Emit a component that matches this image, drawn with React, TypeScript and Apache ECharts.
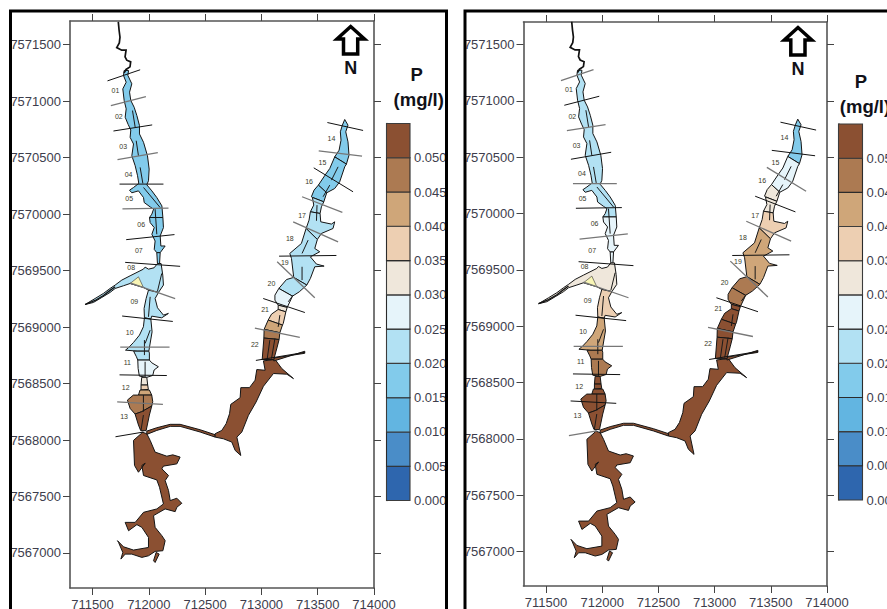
import React, { useEffect, useRef } from "react";
import * as echarts from "echarts";

type Pt = number[];
const BASE_E = 711000;
const BASE_N = 7566000;

const xTicks = [711500, 712000, 712500, 713000, 713500, 714000];
const yTicks = [7567000, 7567500, 7568000, 7568500, 7569000, 7569500, 7570000, 7570500, 7571000, 7571500];
const legendTicks = [0, 0.005, 0.01, 0.015, 0.02, 0.025, 0.03, 0.035, 0.04, 0.045, 0.05];
const bandColors = ["#2E66AE", "#4A8DC8", "#62B5E1", "#82CBEB", "#B2E1F3", "#E6F4FA", "#EFE7DB", "#EDCFB2", "#CFA679", "#AC7A52", "#8B5032"];

// Left arm (easting - 711000, northing - 7566000)
const zoneA: Pt[] = [[781,5272],[775,5228],[799,5168],[769,5109],[781,5006],[799,4932],[790,4858],[817,4793],[840,4745],[834,4680],[864,4621],[849,4517],[879,4428],[900,4340],[911,4272],[864,4236],[829,4212],[849,4189],[908,4206],[953,4147],[959,4103],[1012,4064],[1042,4044],[1027,4000],[1006,3970],[1125,3970],[1116,4073],[1071,4147],[1027,4206],[982,4260],[997,4295],[1003,4399],[988,4517],[953,4636],[917,4710],[917,4784],[894,4872],[870,4946],[840,5006],[829,5080],[849,5154],[814,5228],[820,5272]];
const zoneB: Pt[] = [[1006,3970],[1012,3925],[1048,3881],[1027,3822],[1056,3762],[1048,3688],[1071,3659],[1101,3659],[1145,3718],[1107,3718],[1101,3807],[1130,3881],[1125,3970]];
const zoneC: Pt[] = [[1071,3659],[1077,3555],[1095,3555],[1101,3659]];
const zoneD: Pt[] = [[1077,3563],[1047,3525],[997,3513],[967,3531],[952,3513],[834,3454],[760,3416],[701,3372],[656,3342],[597,3298],[523,3253],[434,3200],[508,3218],[582,3262],[656,3307],[701,3342],[775,3366],[834,3386],[952,3351],[997,3327],[1086,3307],[1130,3372],[1124,3460],[1109,3563]];
const zoneE: Pt[] = [[997,3327],[976,3253],[958,3165],[961,3082],[1018,3071],[1026,3097],[1115,3082],[1174,3121],[1130,3106],[1077,3171],[1056,3253],[1086,3307]];
const zoneF: Pt[] = [[961,3082],[952,3003],[917,2929],[864,2864],[819,2817],[793,2796],[899,2787],[1000,2787],[1029,2958],[1018,3071]];
const zoneF2: Pt[] = [[865,2787],[890,2737],[902,2708],[1005,2708],[1005,2770],[1000,2787]];
const zoneG: Pt[] = [[902,2708],[905,2634],[916,2566],[982,2555],[1035,2572],[1047,2620],[1085,2649],[1026,2684],[1005,2708]];
const zoneH: Pt[] = [[937,2555],[982,2555],[990,2487],[931,2487]];
const zoneI: Pt[] = [[931,2487],[990,2487],[996,2448],[931,2443]];
const zoneJ: Pt[] = [[922,2443],[1005,2443],[1026,2398],[908,2398]];
const zoneK: Pt[] = [[908,2398],[863,2398],[810,2354],[834,2280],[878,2230],[937,2251],[1026,2301],[1035,2339],[1026,2398]];
const zoneL: Pt[] = [[878,2230],[908,2133],[928,2083],[976,2083],[1005,2221],[1026,2301],[937,2251]];
const yellowCove: Pt[] = [[834,3386],[908,3445],[952,3351]];

// Main body of the reservoir
const bodySouth: Pt[] = [[938,2071],[982,2056],[1012,1997],[1056,1893],[1160,1857],[1213,1869],[1278,1849],[1249,1789],[1130,1769],[1116,1745],[1175,1686],[1145,1641],[1175,1553],[1190,1464],[1249,1485],[1293,1440],[1249,1405],[1234,1366],[1145,1390],[1042,1331],[1056,1227],[1116,1153],[1145,1109],[1125,1020],[1056,1014],[997,975],[938,961],[849,990],[790,990],[752,946],[769,1005],[731,1094],[722,1109],[775,1055],[864,1026],[997,1049],[997,1138],[938,1227],[894,1251],[820,1197],[790,1271],[879,1271],[953,1360],[1071,1390],[1130,1434],[1095,1582],[1071,1647],[953,1686],[938,1775],[968,1795],[908,1715],[873,1775],[864,1997],[938,2062]];
const islet: Pt[] = [[1042,931],[1065,1005],[1092,990],[1056,916]];
const channel: Pt[] = [[982,2079],[1071,2109],[1190,2139],[1278,2139],[1456,2091],[1589,2047],[1589,2026],[1456,2071],[1278,2121],[1190,2121],[1071,2085],[982,2050]];
const eastLobe: Pt[] = [[1589,2056],[1648,2085],[1687,2145],[1717,2233],[1728,2316],[1811,2375],[1817,2464],[1894,2464],[1944,2530],[1959,2624],[2033,2618],[2018,2701],[2122,2713],[2181,2633],[2285,2544],[2226,2583],[2107,2589],[2018,2476],[1953,2337],[1885,2219],[1826,2071],[1782,2026],[1817,1863],[1767,1908],[1737,1982],[1663,2011],[1589,2026]];
const eastSpur: Pt[] = [[2110,2700],[2385,2786],[2385,2768],[2110,2726]];

// Right arm
const armR1: Pt[] = [[2740,4838],[2719,4788],[2701,4729],[2707,4655],[2690,4566],[2651,4507],[2755,4443],[2778,4522],[2769,4640],[2749,4729],[2769,4788]];
const armR2: Pt[] = [[2651,4507],[2607,4404],[2565,4345],[2506,4257],[2580,4189],[2651,4227],[2695,4286],[2740,4419],[2755,4443]];
const armR3: Pt[] = [[2506,4257],[2468,4213],[2444,4154],[2453,4148],[2554,4109],[2580,4189]];
const armR4: Pt[] = [[2453,4148],[2465,4080],[2435,4021],[2521,4006],[2533,4065],[2554,4109]];
const armR5: Pt[] = [[2435,4021],[2423,3947],[2397,3873],[2497,3776],[2533,3829],[2636,3873],[2651,3932],[2622,3912],[2527,3932],[2521,4006]];
const armR6: Pt[] = [[2397,3873],[2355,3740],[2252,3652],[2267,3608],[2287,3440],[2403,3372],[2435,3431],[2474,3534],[2557,3540],[2489,3558],[2435,3622],[2518,3667],[2474,3696],[2497,3776]];
const armR7: Pt[] = [[2287,3440],[2223,3421],[2155,3342],[2276,3274],[2336,3312],[2403,3372]];
const armR8: Pt[] = [[2155,3342],[2120,3283],[2120,3239],[2149,3194],[2229,3174],[2276,3274]];
const armR9: Pt[] = [[2149,3156],[2149,3194],[2229,3174],[2217,3135]];
const armR10: Pt[] = [[2060,3062],[2090,3115],[2149,3156],[2217,3135],[2194,3032],[2187,3018]];
const armR11: Pt[] = [[2060,3062],[2187,3018],[2164,2950],[2024,2980]];
const armR12: Pt[] = [[2024,2980],[2164,2950],[2157,2890],[2022,2903]];
const armR13: Pt[] = [[2022,2903],[2157,2890],[2140,2823],[2110,2713],[2007,2713]];

const zones: Pt[][] = [zoneA, zoneB, zoneC, zoneD, zoneE, zoneF, zoneF2, zoneG, zoneH, zoneI, zoneJ, zoneK, zoneL, bodySouth, islet, channel, eastLobe, eastSpur, armR1, armR2, armR3, armR4, armR5, armR6, armR7, armR8, armR9, armR10, armR11, armR12, armR13];
// Phosphorus (mg/l) of each zone in the two maps
const phosphorusLeft = [0.0175, 0.0175, 0.0175, 0.0225, 0.0225, 0.0225, 0.0225, 0.0275, 0.0325, 0.0375, 0.0425, 0.0475, 0.052, 0.052, 0.052, 0.052, 0.052, 0.052, 0.0175, 0.0175, 0.0175, 0.0225, 0.0225, 0.0225, 0.0225, 0.0275, 0.0325, 0.0375, 0.0425, 0.0475, 0.052];
const phosphorusRight = [0.0225, 0.0275, 0.0275, 0.0325, 0.0375, 0.0425, 0.0475, 0.0475, 0.052, 0.052, 0.052, 0.052, 0.052, 0.052, 0.052, 0.052, 0.052, 0.052, 0.0175, 0.0275, 0.0325, 0.0325, 0.0375, 0.0425, 0.0475, 0.0475, 0.052, 0.052, 0.052, 0.052, 0.052];

const stream: Pt[] = [[729,5702],[736,5628],[744,5567],[738,5516],[715,5475],[759,5452],[798,5452],[789,5392],[804,5363],[839,5348],[833,5304],[798,5281],[780,5251]];
const westTail: Pt[] = [[701,3357],[656,3325],[597,3280],[523,3236],[434,3200]];

const centerLines: Pt[][] = [
  [[855,4917],[879,4769]], [[888,4650],[908,4517]], [[923,4414],[947,4272]], [[953,4236],[1101,4058]], [[1056,4044],[1071,3822]],
  [[1115,3475],[1077,3318]], [[1012,3268],[997,3091]], [[1012,2973],[967,2855]], [[961,2885],[961,2752]], [[967,2693],[967,2560]],
  [[952,2398],[952,2251]], [[952,2221],[931,2088]], [[2681,4419],[2622,4301]], [[2607,4257],[2548,4154]], [[2494,4080],[2489,3941]],
  [[2415,3770],[2361,3652]], [[2361,3534],[2361,3416]], [[2238,3224],[2282,3283]], [[2164,3106],[2149,3002]], [[2075,2885],[2052,2722]], [[2120,2899],[2090,2722]],
];
const stationLines: Pt[][] = [
  [[633,5180],[923,5278]], [[663,4961],[974,5041]], [[686,4736],[1030,4790]], [[722,4482],[1080,4544]], [[740,4266],[1130,4266]], [[766,4047],[1175,4053]], [[799,3774],[1228,3819]],
  [[790,3573],[1278,3538]], [[834,3392],[1234,3253]], [[763,3098],[1213,3050]], [[746,2822],[1184,2822]], [[740,2577],[1160,2571]], [[719,2337],[1125,2316]], [[704,2029],[953,2071]],
  [[2586,4811],[2903,4741]], [[2509,4561],[2894,4513]], [[2465,4410],[2814,4198]], [[2361,4154],[2719,4015]], [[2282,3932],[2681,3755]], [[2157,3628],[2666,3634]], [[2140,3578],[2474,3260]],
  [[2016,3253],[2386,3129]], [[1942,2991],[2341,2909]], [[1951,2705],[2385,2776]],
];
const stationGreyLeft = [0, 1, 0, 1, 0, 1, 0, 0, 1, 0, 1, 0, 1, 0, 0, 1, 0, 1, 1, 0, 1, 0, 1, 0];
const stationGreyRight = [1, 0, 1, 0, 1, 0, 1, 0, 1, 0, 1, 0, 0, 1, 0, 0, 1, 0, 1, 0, 1, 0, 1, 0];

const sectionNames = ["01","02","03","04","05","06","07","08","09","10","11","12","13","14","15","16","17","18","19","20","21","22"];
const sectionSpots: Pt[] = [[704,5097],[734,4861],[772,4600],[820,4354],[826,4138],[932,3910],[911,3674],[843,3526],[871,3230],[830,2950],[809,2688],[795,2463],[780,2212],[2622,4673],[2542,4457],[2423,4292],[2361,3985],[2252,3788],[2208,3575],[2089,3384],[2033,3159],[1942,2847]];

const FONT = '"Liberation Sans", Arial, sans-serif';
const LABEL = "#3d3d4c";
const bandOf = (v: number) => bandColors[Math.min(bandColors.length - 1, Math.floor(v / 0.005))];
const toData = (p: Pt) => [BASE_E + p[0], BASE_N + p[1]];

function mapSeries(axis: number, pValues: number[], grey: number[]) {
  const base = { type: "custom", coordinateSystem: "cartesian2d", xAxisIndex: axis, yAxisIndex: axis, clip: false, silent: true, encode: { x: 0, y: 1 } };
  const line = (lines: Pt[][], widthOf: (i: number) => number, colorOf: (i: number) => string, z: number) => ({
    ...base, z,
    data: lines.map((l) => toData(l[0])),
    renderItem: (params: any, api: any) => ({
      type: "polyline",
      shape: { points: lines[params.dataIndex].map((p) => api.coord(toData(p))) },
      style: { fill: "none", stroke: colorOf(params.dataIndex), lineWidth: widthOf(params.dataIndex) },
    }),
  });
  return [
    {
      ...base, z: 2,
      data: zones.map((z) => toData(z[0])),
      renderItem: (params: any, api: any) => ({
        type: "polygon",
        shape: { points: zones[params.dataIndex].map((p) => api.coord(toData(p))) },
        style: { fill: bandOf(pValues[params.dataIndex]), stroke: "#151515", lineWidth: 1 },
      }),
    },
    {
      ...base, z: 3,
      data: [toData(yellowCove[0])],
      renderItem: (_p: any, api: any) => ({
        type: "polygon",
        shape: { points: yellowCove.map((p) => api.coord(toData(p))) },
        style: { fill: "#F8F5B5", stroke: "#333", lineWidth: 0.6 },
      }),
    },
    line(centerLines, () => 1, () => "#1a1a1a", 4),
    line(stationLines, (i) => (grey[i] ? 1.3 : 1), (i) => (grey[i] ? "#777" : "#111"), 5),
    line([stream, westTail], (i) => (i === 0 ? 1.7 : 1.3), () => "#111", 6),
    {
      ...base, z: 7,
      data: sectionSpots.map(toData),
      renderItem: (params: any, api: any) => {
        const c = api.coord(toData(sectionSpots[params.dataIndex]));
        return {
          type: "text",
          style: { x: c[0], y: c[1], text: sectionNames[params.dataIndex], fill: "#3a3a28", font: `7px ${FONT}`, align: "center", verticalAlign: "middle" },
        };
      },
    },
  ];
}

function legendSeries(axis: number) {
  return {
    type: "custom", coordinateSystem: "cartesian2d", xAxisIndex: axis, yAxisIndex: axis, clip: false, silent: true, encode: { x: 0, y: 1 }, z: 2,
    data: bandColors.map((_, i) => [0, i * 0.005]),
    renderItem: (params: any, api: any) => {
      const i = params.dataIndex;
      const a = api.coord([0, i * 0.005]);
      const b = api.coord([1, (i + 1) * 0.005]);
      return {
        type: "rect",
        shape: { x: a[0], y: b[1], width: b[0] - a[0], height: a[1] - b[1] },
        style: { fill: bandColors[i], stroke: i % 2 ? "#2b2b2b" : "#3c3c3c", lineWidth: 1.1 },
      };
    },
  };
}

const axisLine = { show: true, onZero: false, lineStyle: { color: "#555", width: 1.6 } };
const tickStyle = { show: true, length: 7, inside: false, lineStyle: { color: "#444", width: 1 } };
const labelStyle = { color: LABEL, fontFamily: FONT, fontSize: 13 };

function mapAxes(yMin: number, yMax: number) {
  const x = (position: string, labelled: boolean) => ({
    type: "value", position, min: 711300, max: 714000, splitLine: { show: false }, axisLine,
    axisTick: { ...tickStyle, customValues: xTicks },
    axisLabel: labelled ? { ...labelStyle, margin: 10, customValues: xTicks, formatter: (v: number) => String(v) } : { show: false },
  });
  const y = (position: string, labelled: boolean) => ({
    type: "value", position, min: yMin, max: yMax, splitLine: { show: false }, axisLine,
    axisTick: { ...tickStyle, customValues: yTicks },
    axisLabel: labelled ? { ...labelStyle, margin: 9, customValues: yTicks, formatter: (v: number) => String(v) } : { show: false },
  });
  return { x: [x("bottom", true), x("top", false)], y: [y("left", true), y("right", false)] };
}

function legendAxes() {
  return {
    x: { type: "value", min: 0, max: 1, show: false, splitLine: { show: false } },
    y: {
      type: "value", position: "right", min: 0, max: 0.055, splitLine: { show: false },
      axisLine: { show: true, lineStyle: { color: "#666", width: 1.6 } }, axisTick: { show: false },
      axisLabel: { ...labelStyle, margin: 4, customValues: legendTicks, formatter: (v: number) => v.toFixed(3), hideOverlap: false },
    },
  };
}

function arrow(dx: number, dy: number) {
  const pts = [[350.7, 26.5], [337, 39], [343.5, 39], [343.5, 54], [357.7, 54], [357.7, 39], [364.5, 39]];
  return {
    type: "polygon", z: 20,
    shape: { points: pts.map((p) => [p[0] + dx, p[1] + dy]) },
    style: { fill: "#fff", stroke: "#000", lineWidth: 3.5, lineJoin: "miter" },
  };
}
function title(text: string, x: number, y: number, size: number) {
  return { type: "text", z: 20, style: { x, y, text, fill: "#111118", font: `bold ${size}px ${FONT}`, align: "center", verticalAlign: "middle" } };
}

export default function App() {
  const ref = useRef<HTMLDivElement>(null);
  useEffect(() => {
    if (!ref.current) return;
    const chart = echarts.init(ref.current, undefined, { renderer: "svg" });
    const m1 = mapAxes(7566690, 7571710);
    const m2 = mapAxes(7566695, 7571700);
    const l1 = legendAxes();
    const l2 = legendAxes();

    // Each map has a bottom/left axis with labels and a top/right axis with ticks only.
    const xAxis = [
      { ...m1.x[0], gridIndex: 0 }, { ...m1.x[1], gridIndex: 0 },
      { ...m2.x[0], gridIndex: 1 }, { ...m2.x[1], gridIndex: 1 },
      { ...l1.x, gridIndex: 2 }, { ...l2.x, gridIndex: 3 },
    ];
    const yAxis = [
      { ...m1.y[0], gridIndex: 0 }, { ...m1.y[1], gridIndex: 0 },
      { ...m2.y[0], gridIndex: 1 }, { ...m2.y[1], gridIndex: 1 },
      { ...l1.y, gridIndex: 2 }, { ...l2.y, gridIndex: 3 },
    ];

    chart.setOption({
      animation: false,
      backgroundColor: "#fff",
      grid: [
        { left: 70, top: 21, width: 304, height: 567, outerBoundsMode: "none" },
        { left: 523.5, top: 22, width: 303.5, height: 564, outerBoundsMode: "none" },
        { left: 386.5, top: 123.5, width: 23.5, height: 377, outerBoundsMode: "none" },
        { left: 838.5, top: 124, width: 24, height: 376, outerBoundsMode: "none" },
      ],
      xAxis,
      yAxis,
      series: [
        ...mapSeries(0, phosphorusLeft, stationGreyLeft),
        ...mapSeries(2, phosphorusRight, stationGreyRight),
        legendSeries(4),
        legendSeries(5),
      ],
      graphic: [
        { type: "polyline", z: 30, shape: { points: [[10.5, 615], [10.5, 11], [446.5, 11], [446.5, 615]] }, style: { fill: "none", stroke: "#000", lineWidth: 3 } },
        { type: "polyline", z: 30, shape: { points: [[465, 615], [465, 11], [895, 11]] }, style: { fill: "none", stroke: "#000", lineWidth: 3 } },
        arrow(0, 0),
        arrow(447.3, 1),
        title("N", 350.7, 68, 18),
        title("N", 798, 69, 18),
        title("P", 416.7, 74, 18.5),
        title("(mg/l)", 418.7, 99, 18.5),
        title("P", 861, 81, 18.5),
        title("(mg/l)", 865, 106.5, 18.5),
      ],
    });
    return () => chart.dispose();
  }, []);
  return <div ref={ref} style={{ position: "absolute", left: 0, top: 0, width: 887, height: 609, overflow: "hidden" }} />;
}
